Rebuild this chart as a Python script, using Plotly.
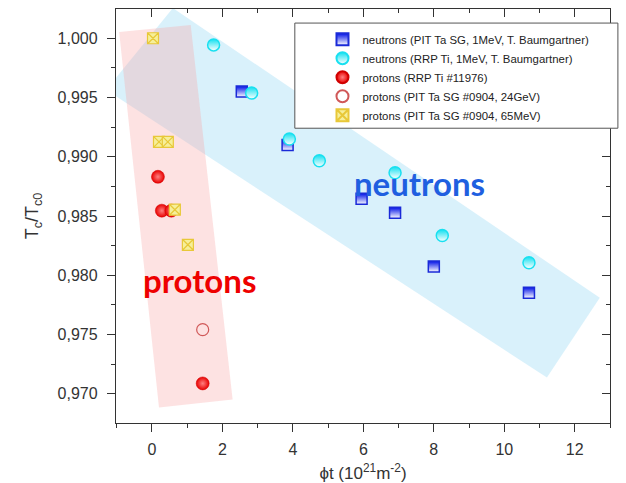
import plotly.graph_objects as go

# ---- data ----
n_pit_x = [2.55, 3.85, 5.95, 6.9, 8.0, 10.7]
n_pit_y = [0.99550, 0.99100, 0.98645, 0.98527, 0.98073, 0.97853]

n_rrp_x = [1.75, 2.83, 3.9, 4.75, 6.9, 8.24, 10.7]
n_rrp_y = [0.99944, 0.99538, 0.99150, 0.98966, 0.98865, 0.98335, 0.98106]

p_rrp_x = [0.17, 0.28, 0.55, 1.44]
p_rrp_y = [0.98831, 0.98545, 0.98545, 0.97087]

p_24_x = [1.44]
p_24_y = [0.97541]

p_65_x = [0.03, 0.2, 0.45, 0.65, 1.02]
p_65_y = [1.000, 0.99125, 0.99125, 0.98553, 0.98257]

names = [
    "neutrons (PIT Ta SG, 1MeV, T. Baumgartner)",
    "neutrons (RRP Ti, 1MeV, T. Baumgartner)",
    "protons (RRP Ti #11976)",
    "protons (PIT Ta SG #0904, 24GeV)",
    "protons (PIT Ta SG #0904, 65MeV)",
]

x_ticks = [0, 2, 4, 6, 8, 10, 12]
y_ticks = [0.970, 0.975, 0.980, 0.985, 0.990, 0.995, 1.000]

XR = [-1.02, 13.0]
YR = [0.96753, 1.00247]

fig = go.Figure()

fig.add_trace(go.Scatter(
    x=n_pit_x, y=n_pit_y, mode="markers", name=names[0],
    marker=dict(symbol="square", size=11, color="#0010e8",
                gradient=dict(type="vertical", color="white"),
                line=dict(color="#1a2ad8", width=1.5)),
))
fig.add_trace(go.Scatter(
    x=n_rrp_x, y=n_rrp_y, mode="markers", name=names[1],
    marker=dict(symbol="circle", size=12, color="#10e0f0",
                gradient=dict(type="vertical", color="white"),
                line=dict(color="#18e0f0", width=1.5)),
))
fig.add_trace(go.Scatter(
    x=p_rrp_x, y=p_rrp_y, mode="markers", name=names[2],
    marker=dict(symbol="circle", size=13, color="#e80000",
                gradient=dict(type="radial", color="#ff8080"),
                line=dict(color="#d00000", width=0.5)),
))
fig.add_trace(go.Scatter(
    x=p_24_x, y=p_24_y, mode="markers", name=names[3],
    marker=dict(symbol="circle-open", size=12, color="#d05858",
                line=dict(color="#d05858", width=1.2)),
))
fig.add_trace(go.Scatter(
    x=p_65_x, y=p_65_y, mode="markers", name=names[4],
    marker=dict(symbol="square-x", size=11, color="#f6ef9a",
                line=dict(color="#e8c838", width=1.2)),
))
# dummy trace to host the mirrored (top/right) axes
fig.add_trace(go.Scatter(x=[], y=[], xaxis="x2", yaxis="y2", showlegend=False))

shapes = [
    # blue "neutrons" band
    dict(type="path", xref="x", yref="y", layer="below",
         path="M 0.594 1.00255 L 12.71 0.97810 L 11.21 0.97136 L -1.30 0.99564 Z",
         fillcolor="rgba(150,215,245,0.36)", line=dict(width=0)),
    # pink "protons" band
    dict(type="path", xref="x", yref="y", layer="below",
         path="M -0.93 1.00053 L 1.10 1.00112 L 2.29 0.96951 L 0.20 0.96884 Z",
         fillcolor="rgba(250,165,165,0.32)", line=dict(width=0)),
    # legend frame
    dict(type="rect", xref="paper", yref="paper", layer="above",
         x0=0.362, x1=1.016, y0=0.712, y1=0.966,
         fillcolor="white", line=dict(color="#555", width=1)),
]

annotations = [
    dict(x=7.6, y=0.98780, xref="x", yref="y", text="<b>neutrons</b>", showarrow=False,
         font=dict(family="Lato", size=33, color="#1f5fe0")),
    dict(x=1.34, y=0.97964, xref="x", yref="y", text="<b>protons</b>", showarrow=False,
         font=dict(family="Lato", size=33, color="#ee0000")),
]

axis_font = dict(family="Liberation Sans, Arial", size=16, color="#333")

fig.update_layout(
    width=626, height=483,
    margin=dict(l=116, r=16, t=9, b=60),
    paper_bgcolor="white", plot_bgcolor="white",
    separators=", ",
    shapes=shapes, annotations=annotations,
    showlegend=True,
    legend=dict(x=0.418, y=0.962, xanchor="left", yanchor="top",
                bgcolor="rgba(0,0,0,0)", borderwidth=0,
                font=dict(family="Liberation Sans, Arial", size=11.4, color="#222"),
                itemsizing="constant"),
    xaxis=dict(range=XR, tickvals=x_ticks, ticks="outside", ticklen=8, tickwidth=1.3,
               tickcolor="#333", showline=True, linecolor="#333", linewidth=1.3,
               showgrid=False, zeroline=False, tickfont=axis_font, ticklabelstandoff=4,
               automargin=False,
               minor=dict(ticks="outside", ticklen=4, dtick=1, tick0=0, tickcolor="#333"),
               title=dict(text="ϕt (10<sup>21</sup>m<sup>-2</sup>)", standoff=13,
                          font=dict(family="Liberation Sans, Arial", size=17, color="#333"))),
    yaxis=dict(range=YR, tickvals=y_ticks, tickformat=".3f", ticks="outside", ticklen=8,
               tickwidth=1.3, tickcolor="#333", showline=True, linecolor="#333", linewidth=1.3,
               showgrid=False, zeroline=False, tickfont=axis_font, ticklabelstandoff=6,
               automargin=False,
               minor=dict(ticks="outside", ticklen=4, dtick=0.0025, tick0=0.97, tickcolor="#333"),
               title=dict(text="T<sub>c</sub>/T<sub>c0</sub>", standoff=14,
                          font=dict(family="Liberation Sans, Arial", size=18, color="#333"))),
    xaxis2=dict(range=XR, overlaying="x", side="top", anchor="y2", tickvals=x_ticks,
                ticks="inside", ticklen=8, tickwidth=1.3, tickcolor="#333",
                showticklabels=False, showline=True, linecolor="#333", linewidth=1.3,
                showgrid=False, zeroline=False, automargin=False,
                minor=dict(ticks="inside", ticklen=4, dtick=1, tick0=0, tickcolor="#333")),
    yaxis2=dict(range=YR, overlaying="y", side="right", anchor="x2", tickvals=y_ticks,
                ticks="inside", ticklen=8, tickwidth=1.3, tickcolor="#333",
                showticklabels=False, showline=True, linecolor="#333", linewidth=1.3,
                showgrid=False, zeroline=False, automargin=False,
                minor=dict(ticks="inside", ticklen=4, dtick=0.0025, tick0=0.97, tickcolor="#333")),
)

fig.write_html("out.html")
